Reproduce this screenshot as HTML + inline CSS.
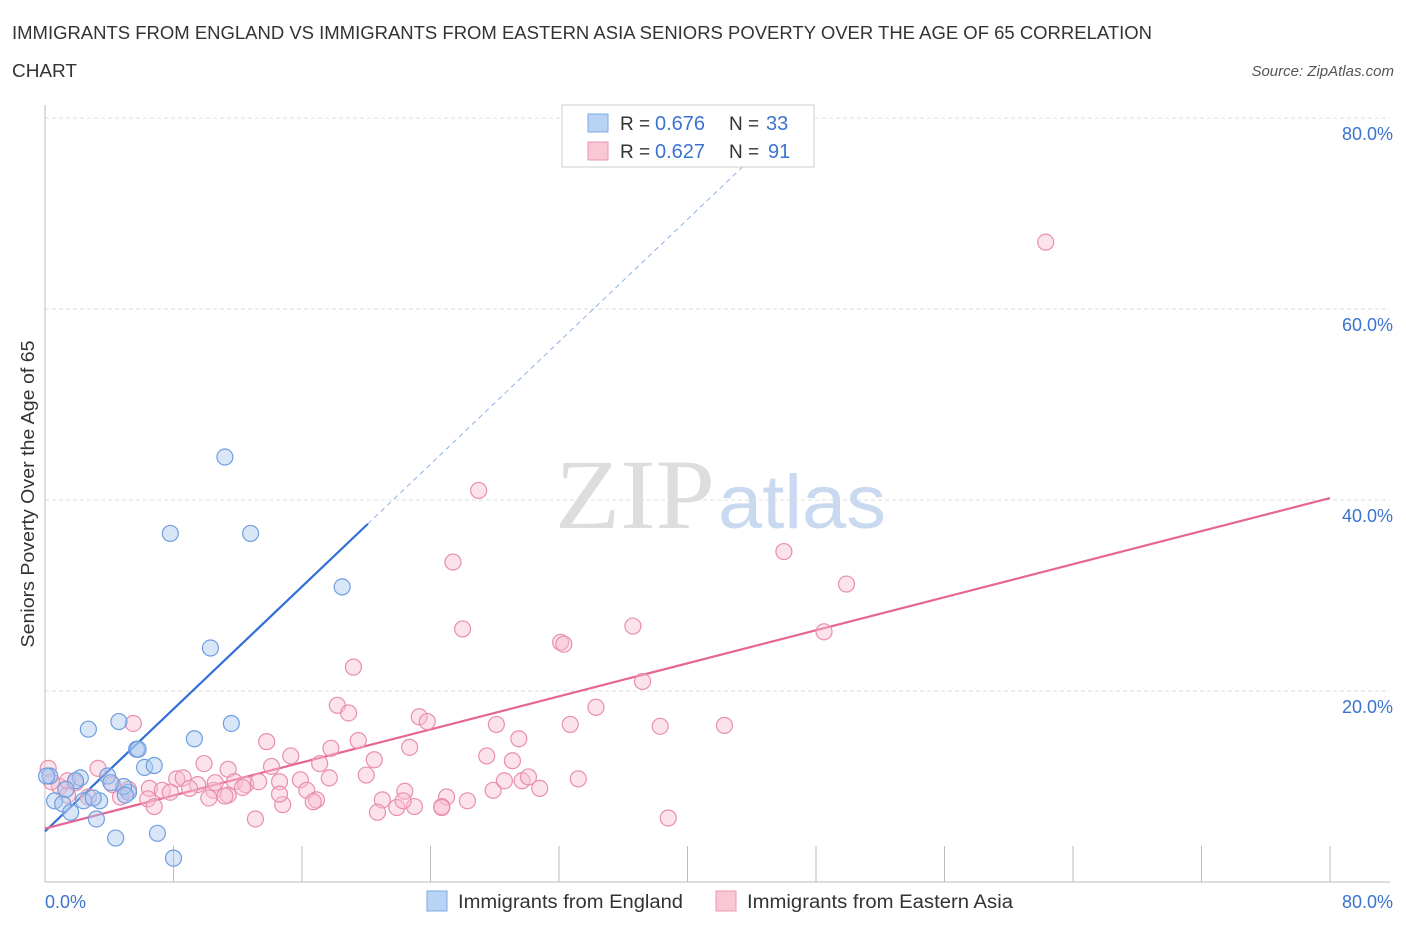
<!DOCTYPE html>
<html><head><meta charset="utf-8"><style>
body{margin:0;background:#fff;font-family:"Liberation Sans",sans-serif;}
svg{display:block}
</style></head><body>
<svg id="c" width="1406" height="930">
<text x="12" y="39" font-size="18" fill="#333" textLength="1140" lengthAdjust="spacingAndGlyphs">IMMIGRANTS FROM ENGLAND VS IMMIGRANTS FROM EASTERN ASIA SENIORS POVERTY OVER THE AGE OF 65 CORRELATION</text>
<text x="12" y="77" font-size="18" fill="#333" textLength="65" lengthAdjust="spacingAndGlyphs">CHART</text>
<text x="1394" y="76" font-size="15" fill="#555" font-style="italic" text-anchor="end">Source: ZipAtlas.com</text>
<text x="34" y="494" font-size="18" fill="#333" text-anchor="middle" textLength="307" lengthAdjust="spacingAndGlyphs" transform="rotate(-90 34 494)">Seniors Poverty Over the Age of 65</text>
<text x="635" y="528" font-size="100" fill="#ddd" font-family="Liberation Serif,serif" text-anchor="middle" textLength="160" lengthAdjust="spacingAndGlyphs">ZIP</text>
<text x="802" y="528" font-size="76" fill="#c9d9ef" text-anchor="middle" textLength="168" lengthAdjust="spacingAndGlyphs">atlas</text>
<g id="grid"></g><g id="lines"></g><g id="pts"></g>
<g>
<rect x="562" y="105" width="252" height="62" fill="#fff" stroke="#ccc"/>
<rect x="588" y="114" width="20" height="18" fill="#b9d3f5" stroke="#7ea8e0"/>
<text x="620" y="130" font-size="19" fill="#333">R =</text>
<text x="655" y="130" font-size="20" fill="#3b73d1">0.676</text>
<text x="729" y="130" font-size="19" fill="#333">N =</text>
<text x="766" y="130" font-size="20" fill="#3b73d1">33</text>
<rect x="588" y="142" width="20" height="18" fill="#f9c6d4" stroke="#e89ab0"/>
<text x="620" y="158" font-size="19" fill="#333">R =</text>
<text x="655" y="158" font-size="20" fill="#3b73d1">0.627</text>
<text x="729" y="158" font-size="19" fill="#333">N =</text>
<text x="768" y="158" font-size="20" fill="#3b73d1">91</text>
</g>
<g>
<rect x="427" y="891" width="20" height="20" fill="#b9d3f5" stroke="#7ea8e0"/>
<text x="458" y="908" font-size="19" fill="#333" textLength="225" lengthAdjust="spacingAndGlyphs">Immigrants from England</text>
<rect x="716" y="891" width="20" height="20" fill="#f9c6d4" stroke="#e89ab0"/>
<text x="747" y="908" font-size="19" fill="#333" textLength="266" lengthAdjust="spacingAndGlyphs">Immigrants from Eastern Asia</text>
</g>
</svg>
<script>
const xTicks=[0,8,16,24,32,40,48,56,64,72,80];
const yTicks=[20,40,60,80];
const blueX=[11.2,7.8,12.8,18.5,10.3,2.7,4.6,11.6,9.3,5.7,5.8,6.2,6.8,3.9,2.2,1.9,0.3,0.6,1.1,2.4,3.4,5.2,4.9,3.2,1.6,4.4,7.0,8.0,3.0,1.3,4.1,5.0,0.1];
const blueY=[44.5,36.5,36.5,30.9,24.5,16,16.8,16.6,15,13.9,13.9,12,12.2,11.1,10.9,10.6,11.1,8.5,8.2,8.5,8.5,9.4,10,6.6,7.3,4.6,5.1,2.5,8.8,9.7,10.4,9.1,11.1];
const pinkX=[62.3,27,25.4,46,49.9,26,36.6,32.1,32.3,48.5,19.2,37.2,18.2,18.9,34.3,23.3,23.8,28.1,32.7,38.3,42.3,5.5,13.8,15.3,17.8,19.5,22.7,20.5,29.5,27.5,29.1,3.3,9.9,11.4,11.8,14.1,17.1,14.6,15.9,17.7,20.0,8.2,8.6,9.5,10.5,12.5,13.3,4.2,5.2,6.5,7.3,7.8,9.0,11.4,10.2,6.4,4.7,2.7,0.9,0.4,0.2,1.9,1.4,1.4,6.8,11.2,16.3,14.8,16.9,16.7,22.4,21.0,21.9,23.0,20.7,25.0,24.7,26.3,24.7,27.9,28.6,29.7,30.1,30.8,33.2,13.1,38.8,22.3,14.6,10.6,12.3];
const pinkY=[67,41,33.5,34.6,31.2,26.5,26.8,25.1,24.9,26.2,22.5,21,18.5,17.7,18.3,17.3,16.8,16.5,16.5,16.3,16.4,16.6,14.7,13.2,14,14.8,14.1,12.8,15,13.2,12.7,11.9,12.4,11.8,10.5,12.1,12.4,10.5,10.7,10.9,11.2,10.8,10.9,10.2,9.6,10.2,10.5,10.2,9.7,9.8,9.6,9.4,9.8,9.1,8.8,8.7,8.9,8.9,10,10.5,11.9,10.4,9.1,10.6,7.9,9,9.6,8.1,8.6,8.4,9.5,8.6,7.8,7.9,7.3,8.9,7.9,8.5,7.8,9.6,10.6,10.6,11,9.8,10.8,6.6,6.7,8.5,9.2,10.4,9.9];
const NS='http://www.w3.org/2000/svg';
const X0=45,X1=1330,Y0=882,Y1=118;
const sx=v=>X0+(X1-X0)*v/80, sy=v=>Y0-(Y0-Y1)*v/80;
function mk(tag,attrs,parent){const e=document.createElementNS(NS,tag);for(const k in attrs)e.setAttribute(k,attrs[k]);parent.appendChild(e);return e;}
const grid=document.getElementById('grid');
yTicks.forEach(t=>{
 const l=mk('line',{x1:X0,x2:1390,y1:sy(t),y2:sy(t),stroke:'#ddd','stroke-dasharray':'4,3'},grid);
 
 
 const tx=mk('text',{x:1393,y:sy(t)+22,'font-size':18,fill:'#3b73d1','text-anchor':'end'},grid);
 tx.textContent=t.toFixed(1)+'%';
 
 
});
const ax=mk('line',{x1:X0,x2:X0,y1:105,y2:Y0,stroke:'#bbb'},grid);


const bx=mk('line',{x1:X0,x2:1390,y1:Y0,y2:Y0,stroke:'#bbb'},grid);


xTicks.forEach(t=>{
 const l=mk('line',{x1:sx(t),x2:sx(t),y1:Y0,y2:Y0-36,stroke:'#bbb'},grid);
 
 
});
[[0,'start',45],[80,'end',1393]].forEach(([t,a,x])=>{
 const tx=mk('text',{x:x,y:908,'font-size':18,fill:'#3b73d1','text-anchor':a},grid);
 tx.textContent=t.toFixed(1)+'%';
 
 
});
const lines=document.getElementById('lines');
const bl=mk('line',{x1:sx(0),y1:sy(5.3),x2:sx(20.1),y2:sy(37.5),stroke:'#2f6fd6','stroke-width':2.2},lines);


const bd=mk('line',{x1:sx(20.1),y1:sy(37.5),x2:sx(43.5),y2:sy(75),stroke:'#8fb0e6','stroke-width':1,'stroke-dasharray':'5,4'},lines);


const pl=mk('line',{x1:sx(0),y1:sy(5.6),x2:sx(80),y2:sy(40.2),stroke:'#e66593','stroke-width':2.2},lines);


const pts=document.getElementById('pts');
pinkX.forEach((v,i)=>{
 const c=mk('circle',{cx:sx(v),cy:sy(pinkY[i]),r:8,fill:'rgba(249,190,208,0.45)',stroke:'#e98fab','stroke-width':1.2},pts);
 
 
});
blueX.forEach((v,i)=>{
 const c=mk('circle',{cx:sx(v),cy:sy(blueY[i]),r:8,fill:'rgba(170,200,240,0.45)',stroke:'#6f9ee0','stroke-width':1.2},pts);
 
 
});
</script>
</body></html>
